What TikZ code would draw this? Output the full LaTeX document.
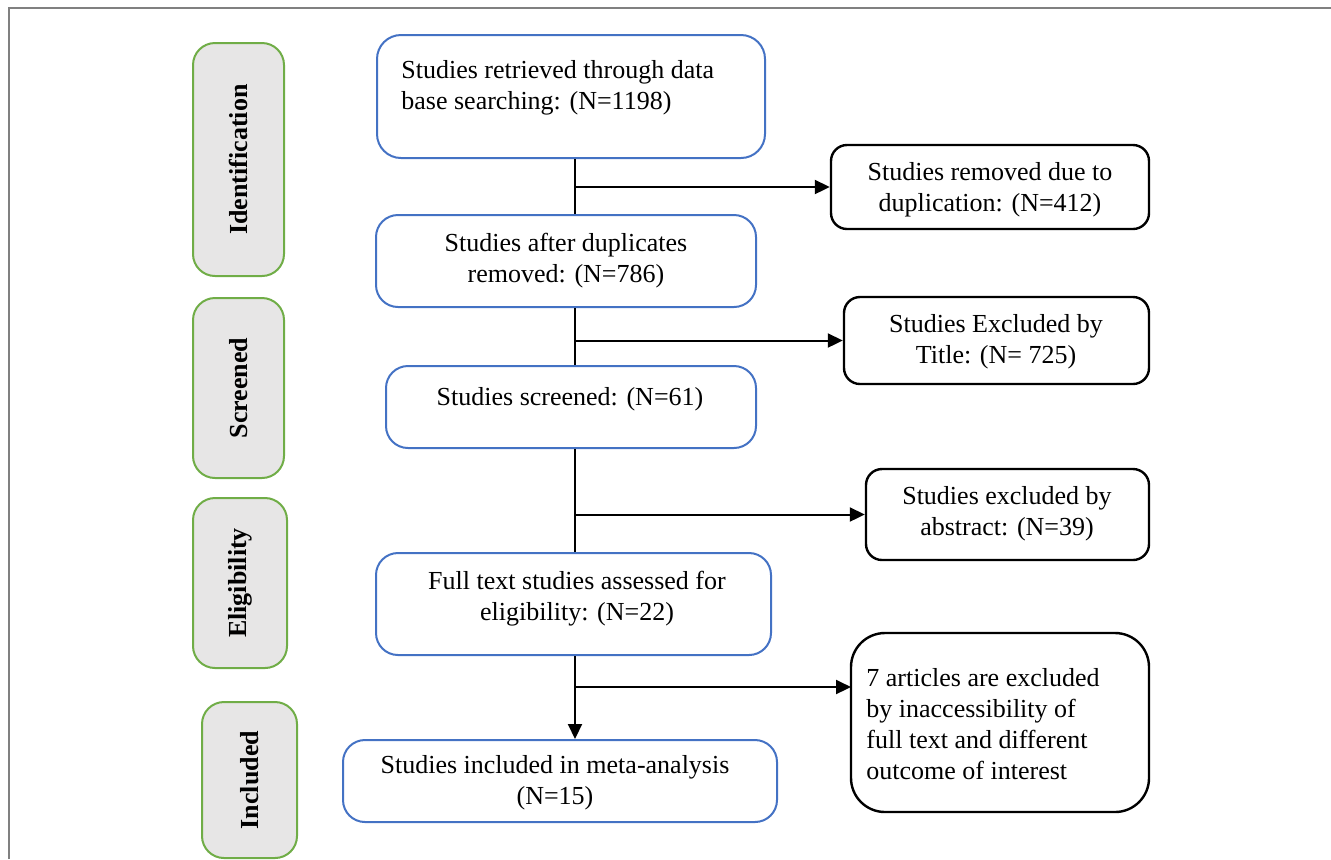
\documentclass[tikz,border=0pt]{standalone}
\usepackage{fontspec}
\setmainfont{Liberation Serif}
\usetikzlibrary{arrows.meta}
\definecolor{bluebd}{RGB}{68,114,196}
\definecolor{greenbd}{RGB}{112,173,71}
\definecolor{sidefill}{RGB}{231,230,230}
\definecolor{framegray}{RGB}{128,128,128}
\begin{document}
\begin{tikzpicture}[x=0.5pt,y=-0.5pt,
  font=\fontsize{13}{15.5}\selectfont,
  stage/.style={draw=bluebd, line width=1pt, rounded corners=11pt, inner sep=0pt},
  excl/.style={draw=black, line width=1.2pt, rounded corners=8pt, inner sep=0pt},
  side/.style={draw=greenbd, fill=sidefill, line width=1pt, rounded corners=11pt, inner sep=0pt},
  sidetxt/.style={rotate=90, inner sep=0pt, font=\fontsize{13}{15.5}\selectfont\bfseries},
  txt/.style={inner sep=0pt, align=center},
  conn/.style={line width=1pt},
  arr/.style={line width=1pt, -{Triangle[length=7.5pt,width=7pt]}}]
\useasboundingbox (0,0) rectangle (1331,859);
% frame
\draw[framegray, line width=0.75pt] (9,859) -- (9,8) -- (1331,8);
% side labels
\node[side, minimum width=45.5pt, minimum height=116.5pt] (g1) at (238.5,159.5) {};
\node[sidetxt] (gt1) at (g1) {Identification};
\node[side, minimum width=45.5pt, minimum height=90pt] (g2) at (238.5,388) {};
\node[sidetxt] (gt2) at (g2) {Screened};
\node[side, minimum width=47pt, minimum height=85pt] (g3) at (240,583) {};
\node[sidetxt] (gt3) at (g3) {Eligibility};
\node[side, minimum width=47.5pt, minimum height=78pt] (g4) at (249.5,780) {};
\node[sidetxt] (gt4) at (g4) {Included};
% main boxes
\node[stage, minimum width=194pt, minimum height=61.5pt, rounded corners=12pt] (b1) at (571,96.5) {};
\node[txt, align=left, anchor=west] (t1) at (401,88) {Studies retrieved through data\\base searching: (N=1198)};
\node[stage, minimum width=190pt, minimum height=46pt] (b2) at (566,261) {};
\node[txt] (t2) at (566,261) {Studies after duplicates\\removed: (N=786)};
\node[stage, minimum width=185pt, minimum height=41pt] (b3) at (571,407) {};
\node[txt] (t3) at (570,399) {Studies screened: (N=61)};
\node[stage, minimum width=197.5pt, minimum height=51pt] (b4) at (573.5,604) {};
\node[txt] (t4) at (577,599) {Full text studies assessed for\\eligibility: (N=22)};
\node[stage, minimum width=217pt, minimum height=41pt] (b5) at (560,781) {};
\node[txt] (t5) at (555,783) {Studies included in meta-analysis\\(N=15)};
% exclusion boxes
\node[excl, minimum width=159pt, minimum height=42pt] (k1) at (990,187) {};
\node[txt] (tk1) at (990,190) {Studies removed due to\\duplication: (N=412)};
\node[excl, minimum width=152.5pt, minimum height=43.5pt] (k2) at (996.5,340.5) {};
\node[txt] (tk2) at (996,342) {Studies Excluded by\\Title: (N= 725)};
\node[excl, minimum width=141.5pt, minimum height=45.5pt] (k3) at (1007.5,514.5) {};
\node[txt] (tk3) at (1007,514) {Studies excluded by\\abstract: (N=39)};
\node[excl, minimum width=149pt, minimum height=89.5pt, rounded corners=17pt] (k4) at (1000,722.5) {};
\node[txt, align=left, anchor=west] (tk4) at (866,724) {7 articles are excluded\\by inaccessibility of\\full text and different\\outcome of interest};
% connectors
\coordinate (spine) at (575,0);
\coordinate (k4in) at (851,687);
\draw[conn] (b1.south -| spine) -- (b2.north -| spine);
\draw[arr] (spine |- k1.west) -- (k1.west);
\draw[conn] (b2.south -| spine) -- (b3.north -| spine);
\draw[arr] (spine |- k2.west) -- (k2.west);
\draw[conn] (b3.south -| spine) -- (b4.north -| spine);
\draw[arr] (spine |- k3.west) -- (k3.west);
\draw[arr] (b4.south -| spine) -- (b5.north -| spine);
\draw[arr] (spine |- k4in) -- (k4in);
\end{tikzpicture}
\end{document}
